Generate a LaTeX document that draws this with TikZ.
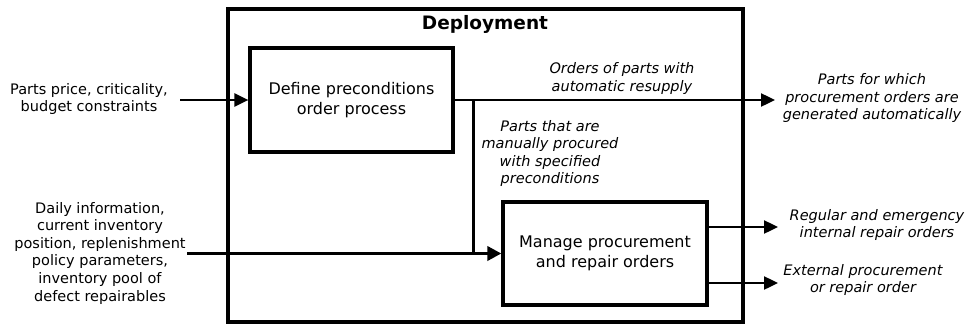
\documentclass[tikz,border=0pt]{standalone}
\usepackage{fontspec}
\setmainfont{DejaVu Sans}
\usetikzlibrary{arrows.meta,calc}
\begin{document}
\begin{tikzpicture}[x=1pt,y=-1pt,
  frame/.style={draw, line width=3.2pt, inner sep=0pt},
  box/.style={draw, line width=3.2pt, inner sep=0pt, align=center, font=\fontsize{16}{20}\selectfont},
  lbl/.style={align=center, inner sep=0pt, font=\fontsize{14.5}{17.6}\selectfont},
  ilbl/.style={align=center, inner sep=0pt, font=\fontsize{14.5}{17.6}\selectfont\itshape},
  conn/.style={line width=2.4pt, -{Triangle[length=14pt,width=13pt]}},
  thick conn/.style={line width=3.6pt, -{Triangle[length=14pt,width=14pt]}},
  branch/.style={line width=3pt},
]
\useasboundingbox (0,0) rectangle (966,324);

% outer frame and title
\node[frame, minimum width=515pt, minimum height=313pt] (dep) at (485.5,165.5) {};
\node[inner sep=0pt, font=\fontsize{18.5}{22}\selectfont\bfseries] (title) at (485,24) {Deployment};

% process boxes
\node[box, minimum width=203pt, minimum height=104pt] (def) at (351.5,100) {Define preconditions\\order process};
\node[box, minimum width=204pt, minimum height=103pt] (man) at (605,253.5) {Manage procurement\\and repair orders};

% free ends
\coordinate (in1) at (180,100);
\coordinate (in2) at (187,253.5);
\coordinate (out1) at (775,100);
\coordinate (out2) at (778,227);
\coordinate (out3) at (778,283);
\coordinate (jtop) at (473,100);
\coordinate (jbot) at (473,253.5);

% connectors
\draw[conn] (in1) -- (def.west);
\draw[thick conn] (in2) -- (man.west);
\draw[conn] (def.east) -- (out1);
\draw[branch] (jtop) -- (jbot);
\draw[conn] (man.east |- out2) -- (out2);
\draw[conn] (man.east |- out3) -- (out3);

% labels
\node[lbl] (l1) at (89,99) {Parts price, criticality,\\budget constraints};
\node[lbl] (l2) at (100,253) {Daily information,\\current inventory\\position, replenishment\\policy parameters,\\inventory pool of\\defect repairables};
\node[ilbl] (l3) at (622,78.5) {Orders of parts with\\automatic resupply};
\node[ilbl] (l4) at (550,153.5) {Parts that are\\manually procured\\with specified\\preconditions};
\node[ilbl] (l5) at (872,98) {Parts for which\\procurement orders are\\generated automatically};
\node[ilbl] (l6) at (877,225) {Regular and emergency\\internal repair orders};
\node[ilbl] (l7) at (863,280) {External procurement\\or repair order};
\end{tikzpicture}
\end{document}
